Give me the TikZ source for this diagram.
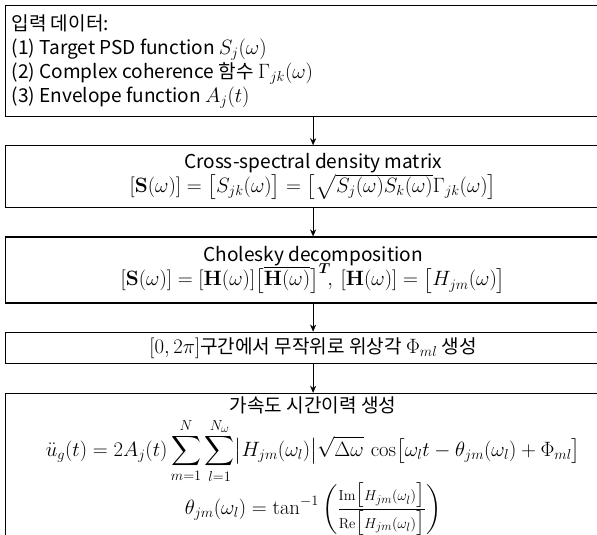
\documentclass[tikz,border=0pt]{standalone}
\usepackage{amsmath}
\usepackage{amssymb}
\usepackage[no-math]{fontspec}
\newfontfamily\krfont[Scale=0.92]{Noto Sans CJK KR}
\newcommand\stagefont{\krfont\fontsize{20.74}{24}\selectfont\lineskiplimit -40pt\relax}
\usetikzlibrary{arrows.meta, positioning}

\begin{document}
\begin{tikzpicture}[
    x=1pt, y=1pt,
    node distance=28pt,
    every node/.style={font=\stagefont},
    stage/.style={rectangle, draw, line width=1.2pt, minimum width=615pt, text width=603pt, inner xsep=6pt, inner ysep=3pt, align=flush center},
    arrow/.style={-{Stealth[length=7pt, width=6pt]}, thin}
]
\useasboundingbox (0,0) rectangle (597,-535);

\node[stage, align=flush left, minimum height=111pt, anchor=north west] (input) at (5,-5)
    {입력 데이터:\\
     (1) Target PSD function $S_j(\omega)$\\
     (2) Complex coherence 함수 $\Gamma_{jk}(\omega)$\\
     (3) Envelope function $A_j(t)$};
\node[stage, minimum height=62pt, below=28pt of input] (csd)
    {Cross-spectral density matrix\\
     $[\mathbf{S}(\omega)] = \bigl[S_{jk}(\omega)\bigr] = \bigl[\sqrt{S_j(\omega)S_k(\omega)}\Gamma_{jk}(\omega)\bigr]$};
\node[stage, minimum height=66pt, below=28pt of csd] (chol)
    {Cholesky decomposition\\
     $[\mathbf{S}(\omega)] = [\mathbf{H}(\omega)]\bigl[\overline{\mathbf{H}(\omega)}\bigr]^{\boldsymbol{T}}\!,\ [\mathbf{H}(\omega)] = \bigl[H_{jm}(\omega)\bigr]$};
\node[stage, minimum height=31pt, below=28pt of chol] (phase)
    {$[0,2\pi]$구간에서 무작위로 위상각 $\Phi_{ml}$ 생성};
\node[stage, text height=16pt, text depth=140pt, below=29pt of phase] (accel)
    {가속도 시간이력 생성\\[20pt]
     $\displaystyle \ddot{u}_g(t) = 2A_j(t)\sum_{m=1}^{N}\sum_{l=1}^{N_\omega}\bigl|H_{jm}(\omega_l)\bigr|\sqrt{\Delta\omega}\,\cos\bigl[\omega_l t-\theta_{jm}(\omega_l)+\Phi_{ml}\bigr]$\\[34pt]
     $\displaystyle \theta_{jm}(\omega_l) = \tan^{-1}\left(\tfrac{\mathrm{Im}\bigl[H_{jm}(\omega_l)\bigr]}{\mathrm{Re}\bigl[H_{jm}(\omega_l)\bigr]}\right)$};

\foreach \src/\dst in {input/csd, csd/chol, chol/phase, phase/accel} {
    \draw[arrow] (\src) -- (\dst);
}

\end{tikzpicture}
\end{document}
